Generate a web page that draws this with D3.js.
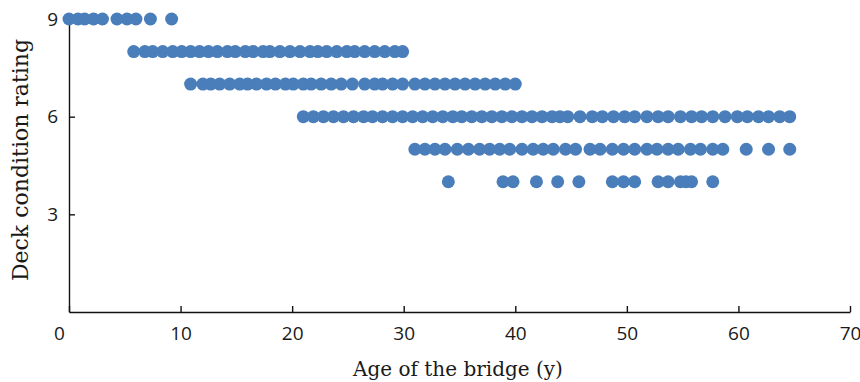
<!DOCTYPE html>
<html>
<head>
<meta charset="utf-8">
<script src="https://cdn.jsdelivr.net/npm/d3@7"></script>
<style>
  html, body { margin: 0; padding: 0; background: #fff; }
  svg { display: block; }
  .axis path, .axis line { stroke: #111; stroke-width: 1.4; }
  .axis text { font-family: "Open Sans", sans-serif; font-size: 19px; fill: #1a1a1a; }
  .title { font-family: "DejaVu Serif", serif; fill: #1a1a1a; }
</style>
</head>
<body>
<svg width="860" height="382"></svg>
<script>
// ages (years) of the bridges at each deck condition rating
var rating9 = [0, 0.8, 1.4, 2.2, 3.0, 4.3, 5.2, 6.0, 7.3, 9.2];
var rating8 = [5.8, 6.8, 7.5, 8.4, 9.3, 10.1, 10.9, 11.7, 12.5, 13.3, 14.2, 14.9, 15.8, 16.5,
  17.4, 18.0, 18.9, 19.8, 20.7, 21.6, 22.3, 23.1, 24.0, 24.9, 25.6, 26.5, 27.4, 28.3, 29.2, 29.9];
var rating7 = [10.9, 12.0, 12.7, 13.5, 14.4, 15.3, 16.0, 16.8, 17.7, 18.5, 19.4, 20.1, 21.0,
  21.7, 22.6, 23.5, 24.4, 25.4, 26.5, 27.4, 28.1, 29.0, 29.9, 31.0, 31.9, 32.8, 33.7, 34.6,
  35.5, 36.4, 37.3, 38.2, 39.1, 40.0];
var rating6 = [21.0, 21.9, 22.8, 23.7, 24.6, 25.5, 26.4, 27.2, 28.1, 29.0, 29.9, 30.8, 31.7,
  32.6, 33.5, 34.4, 35.2, 36.1, 37.0, 37.9, 38.8, 39.7, 40.6, 41.5, 42.4, 43.3, 44.0, 44.7,
  45.8, 46.9, 47.8, 48.8, 49.8, 50.7, 51.8, 52.8, 53.7, 54.8, 55.8, 56.7, 57.7, 58.8, 59.9,
  60.8, 61.8, 62.7, 63.7, 64.6];
var rating5 = [31.0, 31.9, 32.8, 33.7, 34.8, 35.8, 36.8, 37.7, 38.6, 39.5, 40.6, 41.6, 42.5,
  43.4, 44.5, 45.4, 46.7, 47.6, 48.7, 49.7, 50.7, 51.8, 52.7, 53.7, 54.6, 55.7, 56.6, 57.7,
  58.6, 60.7, 62.7, 64.6];
var rating4 = [34.0, 38.9, 39.8, 41.9, 43.8, 45.7, 48.7, 49.7, 50.7, 52.8, 53.7, 54.8, 55.3,
  55.8, 57.7];

var xTicks = [0, 10, 20, 30, 40, 50, 60, 70];
var yTicks = [3, 6, 9];

var series = [
  { rating: 9, ages: rating9 },
  { rating: 8, ages: rating8 },
  { rating: 7, ages: rating7 },
  { rating: 6, ages: rating6 },
  { rating: 5, ages: rating5 },
  { rating: 4, ages: rating4 }
];

var svg = d3.select("svg"),
    plotLeft = 69, plotRight = 850, plotTop = 19, plotBottom = 312;

var x = d3.scaleLinear().domain([0, 70]).range([plotLeft, plotRight]);
var y = d3.scaleLinear().domain([0, 9]).range([plotBottom, plotTop]);

var points = [];
series.forEach(function(s) {
  s.ages.forEach(function(a) { points.push({ age: a, rating: s.rating }); });
});

svg.append("g")
    .attr("class", "axis")
    .attr("transform", "translate(0," + plotBottom + ")")
    .call(d3.axisBottom(x).tickValues(xTicks).tickSizeInner(-6).tickSizeOuter(0).tickPadding(15))
  .call(function(g) {
    // the "0" label sits a little left of the corner
    g.selectAll(".tick text").filter(function(d) { return d === 0; }).attr("dx", -10);
  });

svg.append("g")
    .attr("class", "axis")
    .attr("transform", "translate(" + plotLeft + ",0)")
    .call(d3.axisLeft(y).tickValues(yTicks).tickSizeInner(-6).tickSizeOuter(0).tickPadding(11));

svg.append("g")
  .selectAll("circle")
  .data(points)
  .enter().append("circle")
    .attr("cx", function(d) { return x(d.age); })
    .attr("cy", function(d) { return y(d.rating); })
    .attr("r", 6.5)
    .style("fill", "#4a7ebb");

svg.append("text")
    .attr("class", "title")
    .attr("x", 458)
    .attr("y", 376)
    .attr("text-anchor", "middle")
    .style("font-size", "20px")
    .text("Age of the bridge (y)");

svg.append("text")
    .attr("class", "title")
    .attr("transform", "translate(28,160) rotate(-90)")
    .attr("text-anchor", "middle")
    .style("font-size", "22px")
    .text("Deck condition rating");
</script>
</body>
</html>
